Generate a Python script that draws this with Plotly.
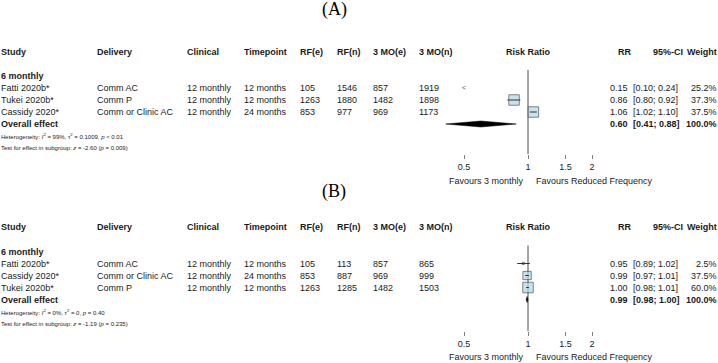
import numpy as np
import plotly.graph_objects as go

# ---------------- data ----------------
headers_left = ["Study", "Delivery", "Clinical", "Timepoint", "RF(e)", "RF(n)", "3 MO(e)", "3 MO(n)"]
headers_right = ["RR", "95%-CI", "Weight"]
forest_header = "Risk Ratio"
subgroup_label = "6 monthly"
overall_label = "Overall effect"
tick_vals = [0.5, 1, 1.5, 2]
tick_text = ["0.5", "1", "1.5", "2"]
favours_left = "Favours 3 monthly"
favours_right = "Favours Reduced Frequency"

# Panel A
title_a = "(A)"
studies_a = ["Fatti 2020b*", "Tukei 2020b*", "Cassidy 2020*"]
delivery_a = ["Comm AC", "Comm P", "Comm or Clinic AC"]
clinical_a = ["12 monthly", "12 monthly", "12 monthly"]
timepoint_a = ["12 months", "12 months", "24 months"]
rf_e_a = [105, 1263, 853]
rf_n_a = [1546, 1880, 977]
mo3_e_a = [857, 1482, 969]
mo3_n_a = [1919, 1898, 1173]
rr_a = [0.15, 0.86, 1.06]
lo_a = [0.10, 0.80, 1.02]
hi_a = [0.24, 0.92, 1.10]
weight_a = [25.2, 37.3, 37.5]
overall_rr_a, overall_lo_a, overall_hi_a = 0.60, 0.41, 0.88
het_a = "Heterogeneity: <i>I</i><sup>2</sup> = 99%, τ<sup>2</sup> = 0.1009, <i>p</i> &lt; 0.01"
test_a = "Test for effect in subgroup: <i>z</i> = -2.60 (<i>p</i> = 0.009)"

# Panel B
title_b = "(B)"
studies_b = ["Fatti 2020b*", "Cassidy 2020*", "Tukei 2020b*"]
delivery_b = ["Comm AC", "Comm or Clinic AC", "Comm P"]
clinical_b = ["12 monthly", "12 monthly", "12 monthly"]
timepoint_b = ["12 months", "24 months", "12 months"]
rf_e_b = [105, 853, 1263]
rf_n_b = [113, 887, 1285]
mo3_e_b = [857, 969, 1482]
mo3_n_b = [865, 999, 1503]
rr_b = [0.95, 0.99, 1.00]
lo_b = [0.89, 0.97, 0.98]
hi_b = [1.02, 1.01, 1.01]
weight_b = [2.5, 37.5, 60.0]
overall_rr_b, overall_lo_b, overall_hi_b = 0.99, 0.98, 1.00
het_b = "Heterogeneity: <i>I</i><sup>2</sup> = 0%, τ<sup>2</sup> = 0, <i>p</i> = 0.40"
test_b = "Test for effect in subgroup: <i>z</i> = -1.19 (<i>p</i> = 0.235)"

# ---------------- layout constants ----------------
W, H = 718, 363
ROW = 12.0
FONT = "Liberation Sans, Arial, sans-serif"
SERIF = "Liberation Serif, Times New Roman, serif"
TXT = "#1a1a1a"
col_left_px = [1, 97, 187, 244, 300, 337, 373, 419]
rr_right_px = 628
ci_left_px = 633
w_right_px = 717
hdr_right_px = [632, 683, 717]
forest_center_px = 528
x_dom_px = (420, 612)
px_per_log = 128 / np.log10(4)

def px2x(p):
    return p / W

def px2y(p):
    return 1 - p / H

fig = go.Figure()
ann = []
shapes = []

panels = [
    dict(sfx="", title=title_a, title_px=9, base=76, axis=154, top=0,
         studies=studies_a, delivery=delivery_a, clinical=clinical_a, timepoint=timepoint_a,
         rfe=rf_e_a, rfn=rf_n_a, me=mo3_e_a, mn=mo3_n_a, rr=rr_a, lo=lo_a, hi=hi_a, w=weight_a,
         orr=overall_rr_a, olo=overall_lo_a, ohi=overall_hi_a, het=het_a, test=test_a,
         fav_px=181),
    dict(sfx="2", title=title_b, title_px=191, base=251.5, axis=331, top=180,
         studies=studies_b, delivery=delivery_b, clinical=clinical_b, timepoint=timepoint_b,
         rfe=rf_e_b, rfn=rf_n_b, me=mo3_e_b, mn=mo3_n_b, rr=rr_b, lo=lo_b, hi=hi_b, w=weight_b,
         orr=overall_rr_b, olo=overall_lo_b, ohi=overall_hi_b, het=het_b, test=test_b,
         fav_px=357),
]

xmin_log = np.log10(1) + (x_dom_px[0] - forest_center_px) / px_per_log
xmax_log = np.log10(1) + (x_dom_px[1] - forest_center_px) / px_per_log
lim_lo, lim_hi = min(tick_vals), max(tick_vals)

layout_axes = {}
for p in panels:
    s = p["sfx"]
    xa = "x" + s
    ya = "y" + s
    r_top = (p["top"] - p["base"]) / ROW
    r_axis = (p["axis"] - p["base"]) / ROW
    layout_axes["xaxis" + s] = dict(
        domain=[px2x(x_dom_px[0]), px2x(x_dom_px[1])], anchor=ya, type="log",
        range=[xmin_log, xmax_log], showgrid=False, zeroline=False, showline=False,
        tickvals=tick_vals, ticktext=tick_text, ticks="outside", ticklen=4,
        tickcolor="#7f7f7f", tickwidth=1, tickfont=dict(family=FONT, size=9, color=TXT),
        fixedrange=True)
    layout_axes["yaxis" + s] = dict(
        domain=[px2y(p["axis"]), px2y(p["top"])], anchor=xa, range=[r_axis, r_top],
        visible=False, fixedrange=True)

    n = len(p["studies"])
    rows = list(range(1, n + 1))
    r_overall = n + 1

    # reference line at RR = 1
    fig.add_trace(go.Scatter(x=[1, 1], y=[-0.5, r_axis], mode="lines",
                             line=dict(color="#4d4d4d", width=1), xaxis=xa, yaxis=ya,
                             hoverinfo="skip", showlegend=False))
    # axis line between the limits
    shapes.append(dict(type="line", xref=xa, yref="paper",
                       x0=np.log10(lim_lo), x1=np.log10(lim_hi),
                       y0=px2y(p["axis"]), y1=px2y(p["axis"]),
                       line=dict(color="#7f7f7f", width=1)))

    wmax = max(p["w"])
    in_rows, in_rr, in_size = [], [], []
    cx, cy = [], []
    arr_x, arr_y = [], []
    for i in range(n):
        if p["hi"][i] < lim_lo:
            arr_x.append(lim_lo)
            arr_y.append(rows[i])
            continue
        in_rows.append(rows[i])
        in_rr.append(p["rr"][i])
        in_size.append(10.5 * np.sqrt(p["w"][i] / wmax))
        cx += [max(p["lo"][i], lim_lo), min(p["hi"][i], lim_hi), None]
        cy += [rows[i], rows[i], None]

    fig.add_trace(go.Scatter(x=in_rr, y=in_rows, mode="markers",
                             marker=dict(symbol="square", size=in_size, color="#add8e6",
                                         line=dict(color="#4d4d4d", width=1)),
                             xaxis=xa, yaxis=ya, hoverinfo="skip", showlegend=False))
    fig.add_trace(go.Scatter(x=cx, y=cy, mode="lines", line=dict(color="#333333", width=1),
                             xaxis=xa, yaxis=ya, hoverinfo="skip", showlegend=False))
    if arr_x:
        fig.add_trace(go.Scatter(x=arr_x, y=arr_y, mode="text", text=["&lt;"] * len(arr_x),
                                 textfont=dict(family=FONT, size=7, color="#555555"),
                                 textposition="middle center", cliponaxis=False,
                                 xaxis=xa, yaxis=ya, hoverinfo="skip", showlegend=False))
    # overall diamond
    hh = 0.25
    fig.add_trace(go.Scatter(x=[p["olo"], p["orr"], p["ohi"], p["orr"], p["olo"]],
                             y=[r_overall, r_overall - hh, r_overall, r_overall + hh, r_overall],
                             mode="lines", fill="toself", fillcolor="#000000",
                             line=dict(color="#000000", width=0.5),
                             xaxis=xa, yaxis=ya, hoverinfo="skip", showlegend=False))

    def add(text, xpx, y, anchor="left", size=9, yref=ya, family=FONT, color=TXT):
        ann.append(dict(text=text, x=px2x(xpx), xref="paper", y=y, yref=yref,
                        xanchor=anchor, yanchor="middle", showarrow=False,
                        borderpad=0, borderwidth=0,
                        font=dict(family=family, size=size, color=color)))

    # title
    add(p["title"], 334, px2y(p["title_px"]), anchor="center", size=18, yref="paper",
        family=SERIF, color="#000000")
    # headers
    hdr_y = px2y(p["base"] - 2 * ROW)
    for h, xp in zip(headers_left, col_left_px):
        add("<b>%s</b>" % h, xp, hdr_y, yref="paper")
    add("<b>%s</b>" % forest_header, forest_center_px, hdr_y, anchor="center", yref="paper")
    for h, xp in zip(headers_right, hdr_right_px):
        add("<b>%s</b>" % h, xp, hdr_y, anchor="right", yref="paper")
    # subgroup
    add("<b>%s</b>" % subgroup_label, col_left_px[0], 0)
    # studies
    for i in range(n):
        r = rows[i]
        vals = [p["studies"][i], p["delivery"][i], p["clinical"][i], p["timepoint"][i],
                str(p["rfe"][i]), str(p["rfn"][i]), str(p["me"][i]), str(p["mn"][i])]
        for v, xp in zip(vals, col_left_px):
            add(v, xp, r)
        add("%.2f" % p["rr"][i], rr_right_px, r, anchor="right")
        add("[%.2f; %.2f]" % (p["lo"][i], p["hi"][i]), ci_left_px, r)
        add("%.1f%%" % p["w"][i], w_right_px, r, anchor="right")
    # overall
    add("<b>%s</b>" % overall_label, col_left_px[0], r_overall)
    add("<b>%.2f</b>" % p["orr"], rr_right_px, r_overall, anchor="right")
    add("<b>[%.2f; %.2f]</b>" % (p["olo"], p["ohi"]), ci_left_px, r_overall)
    add("<b>%.1f%%</b>" % 100.0, w_right_px, r_overall, anchor="right")
    add(p["het"], col_left_px[0], r_overall + 1, size=6)
    add(p["test"], col_left_px[0], r_overall + 2, size=6)
    # favours
    add(favours_left, forest_center_px - 4, px2y(p["fav_px"]), anchor="right", yref="paper")
    add(favours_right, forest_center_px + 8, px2y(p["fav_px"]), anchor="left", yref="paper")

fig.update_layout(
    width=W, height=H, margin=dict(l=0, r=0, t=0, b=0),
    paper_bgcolor="white", plot_bgcolor="rgba(0,0,0,0)",
    showlegend=False, annotations=ann, shapes=shapes, **layout_axes)

fig.write_html("out.html", config={"displayModeBar": False},
               post_script="document.body.style.margin='0';document.body.style.overflow='hidden';")
